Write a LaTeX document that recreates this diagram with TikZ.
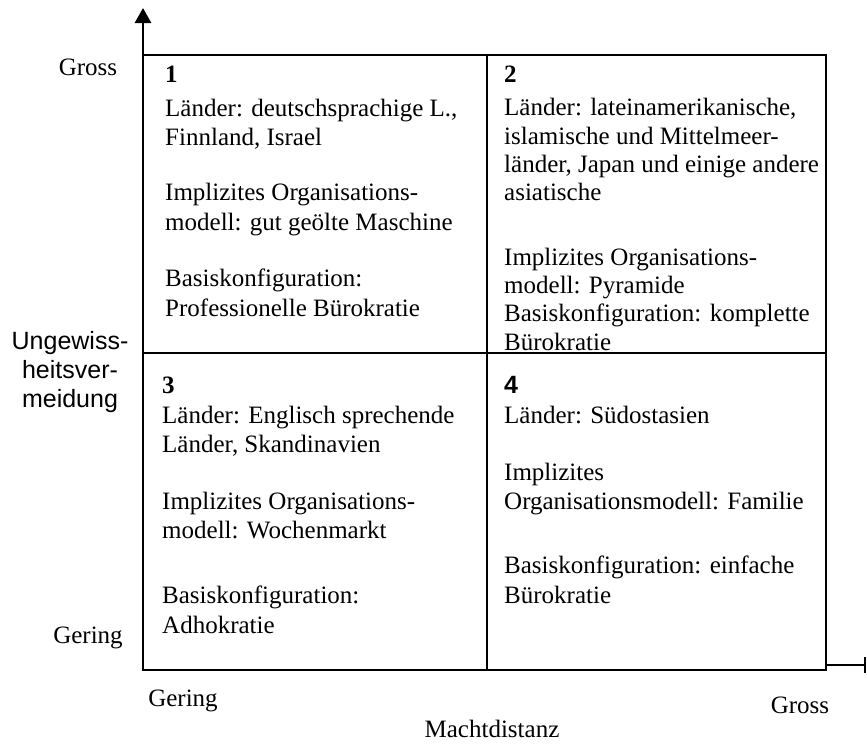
\documentclass[tikz,border=0pt]{standalone}
\usepackage{fontspec}
\setmainfont{Liberation Serif}
\setsansfont{Liberation Sans}
\usetikzlibrary{arrows.meta}
\begin{document}
\begin{tikzpicture}[x=1pt,y=-1pt,
  txt/.style={anchor=base west,inner sep=0pt,font=\fontsize{25}{29}\selectfont},
  num/.style={txt,font=\fontsize{25}{29}\selectfont\bfseries},
  numsans/.style={txt,font=\fontsize{25}{29}\selectfont\sffamily\bfseries},
  lbl/.style={anchor=base,inner sep=0pt,font=\fontsize{25}{29}\selectfont},
  lblsans/.style={anchor=base,inner sep=0pt,font=\fontsize{25}{29}\selectfont\sffamily},
  grid/.style={line width=2.8pt},
  axis/.style={line width=2.8pt}]
\useasboundingbox (0,0) rectangle (867,747);
% corners
\coordinate (tl) at (143,55);
\coordinate (tr) at (826,55);
\coordinate (bl) at (143,670);
\coordinate (br) at (826,670);
\coordinate (mt) at (487,55);
\coordinate (mb) at (487,670);
\coordinate (ml) at (143,353);
\coordinate (mr) at (826,353);
\coordinate (ytip) at (143,8);
\coordinate (xs) at (826,665);
\coordinate (xe) at (865,665);
% axes
\draw[axis,-{Triangle[length=15pt,width=16pt]}] (bl) -- (ytip);
\draw[axis] (xs) -- (xe);
\draw[line width=2pt] (865,657) -- (865,673);
% grid
\draw[grid] (tl) rectangle (br);
\draw[grid] (mt) -- (mb);
\draw[grid] (ml) -- (mr);
% quadrant 1
\node[num] (n1) at (165,82) {1};
\node[txt] (q1a) at (165,116) {Länder: deutschsprachige L.,};
\node[txt] (q1b) at (165,145) {Finnland, Israel};
\node[txt] (q1c) at (165,200) {Implizites Organisations-};
\node[txt] (q1d) at (165,230) {modell: gut geölte Maschine};
\node[txt] (q1e) at (165,286) {Basiskonfiguration:};
\node[txt] (q1f) at (165,316) {Professionelle Bürokratie};
% quadrant 2
\node[num] (n2) at (504,82) {2};
\node[txt] (q2a) at (504,115) {Länder: lateinamerikanische,};
\node[txt] (q2b) at (504,144) {islamische und Mittelmeer-};
\node[txt] (q2c) at (504,172) {länder, Japan und einige andere};
\node[txt] (q2d) at (504,200) {asiatische};
\node[txt] (q2e) at (504,265) {Implizites Organisations-};
\node[txt] (q2f) at (504,293) {modell: Pyramide};
\node[txt] (q2g) at (504,321) {Basiskonfiguration: komplette};
\node[txt] (q2h) at (504,350) {Bürokratie};
% quadrant 3
\node[num] (n3) at (162,393) {3};
\node[txt] (q3a) at (162,423) {Länder: Englisch sprechende};
\node[txt] (q3b) at (162,452) {Länder, Skandinavien};
\node[txt] (q3c) at (162,509) {Implizites Organisations-};
\node[txt] (q3d) at (162,538) {modell: Wochenmarkt};
\node[txt] (q3e) at (162,603) {Basiskonfiguration:};
\node[txt] (q3f) at (162,633) {Adhokratie};
% quadrant 4
\node[numsans] (n4) at (504,393) {4};
\node[txt] (q4a) at (504,423) {Länder: Südostasien};
\node[txt] (q4b) at (504,480) {Implizites};
\node[txt] (q4c) at (504,509) {Organisationsmodell: Familie};
\node[txt] (q4d) at (504,573) {Basiskonfiguration: einfache};
\node[txt] (q4e) at (504,603) {Bürokratie};
% axis labels
\node[lbl] (ygross) at (88,75) {Gross};
\node[lbl] (ygering) at (88,643) {Gering};
\node[lbl] (xgering) at (183,706) {Gering};
\node[lbl] (xgross) at (800,713) {Gross};
\node[lbl] (xtitle) at (492,737) {Machtdistanz};
\node[lblsans] (yt1) at (70,349) {Ungewiss-};
\node[lblsans] (yt2) at (70,378) {heitsver-};
\node[lblsans] (yt3) at (70,407) {meidung};
\end{tikzpicture}
\end{document}
